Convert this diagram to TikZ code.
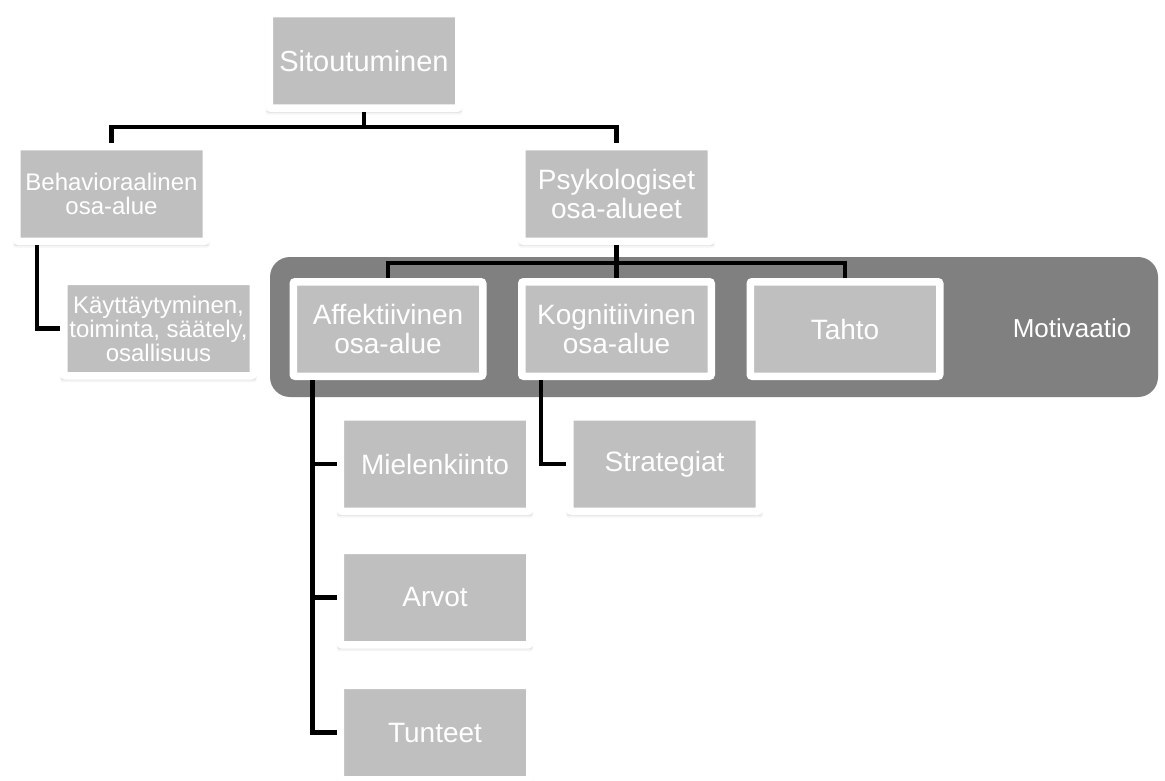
\documentclass[tikz,border=0pt]{standalone}
\usepackage{fontspec}
\setmainfont{Liberation Sans}
\usetikzlibrary{shadows}
\definecolor{laatikko}{HTML}{BFBFBF}
\definecolor{tausta}{HTML}{808080}
\begin{document}
\begin{tikzpicture}[x=1pt,y=-1pt,
  osa/.style={draw=white,fill=laatikko,line width=7.5pt,rounded corners=2pt,
    minimum width=189.5pt,minimum height=94.5pt,inner sep=2pt,align=center,
    text=white,font=\fontsize{28}{29}\selectfont,
    drop shadow={opacity=.08,shadow xshift=0pt,shadow yshift=-4.5pt,shadow scale=1.035},
    drop shadow={opacity=.12,shadow xshift=0pt,shadow yshift=-3pt,shadow scale=1.03}},
  pieni/.style={font=\fontsize{24}{24}\selectfont},
  yhd/.style={line width=4.5pt}]
  \useasboundingbox (0,0) rectangle (1165,781);
  \fill[white] (0,0) rectangle (1165,781);
  \fill[tausta,rounded corners=20pt] (270,257) rectangle (1158,397);
  \node[text=white,font=\fontsize{26}{26}\selectfont] (motiv) at (1072,328) {Motivaatio};
  \node[osa,font=\fontsize{29}{29}\selectfont] (sit) at (364,61) {Sitoutuminen};
  \node[osa,pieni] (beh) at (111.5,194) {Behavioraalinen\\osa-alue};
  \node[osa] (psy) at (616.5,194) {Psykologiset\\osa-alueet};
  \node[osa,pieni] (kay) at (158.5,328.5) {Käyttäytyminen,\\toiminta, säätely,\\osallisuus};
  \node[osa] (aff) at (388,329) {Affektiivinen\\osa-alue};
  \node[osa] (kog) at (616.5,329) {Kognitiivinen\\osa-alue};
  \node[osa] (tah) at (845,329) {Tahto};
  \node[osa] (mie) at (435,464) {Mielenkiinto};
  \node[osa] (str) at (664.5,464) {Strategiat};
  \node[osa] (arv) at (435,597.5) {Arvot};
  \node[osa] (tun) at (435,732.5) {Tunteet};
  \coordinate (haara1) at (364,127);
  \coordinate (haara2) at (616.5,263);
  \draw[yhd] (sit.south) -- (haara1);
  \draw[yhd] (beh.north) |- (haara1) -| (psy.north);
  \draw[yhd] (psy.south) -- (kog.north);
  \draw[yhd] (aff.north) |- (haara2) -| (tah.north);
  \draw[yhd] (beh.south west) ++(24,0) |- (kay.west);
  \draw[yhd] (aff.south west) ++(23,0) |- (mie.west);
  \draw[yhd] (aff.south west) ++(23,0) |- (arv.west);
  \draw[yhd] (aff.south west) ++(23,0) |- (tun.west);
  \draw[yhd] (kog.south west) ++(23,0) |- (str.west);
\end{tikzpicture}
\end{document}
